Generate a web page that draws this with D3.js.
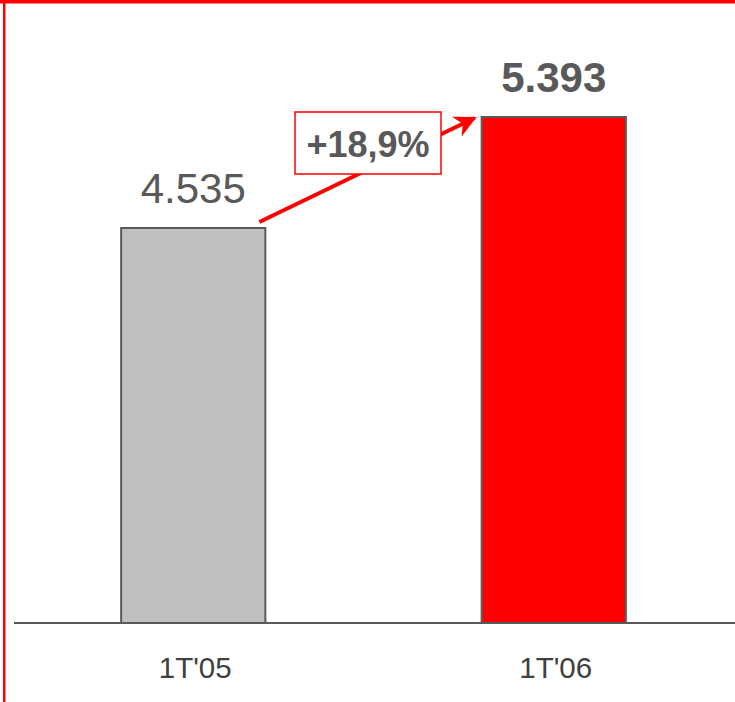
<!DOCTYPE html>
<html><head><meta charset="utf-8">
<script src="https://cdn.jsdelivr.net/npm/d3@7"></script>
<style>body{margin:0;background:#fff}svg{display:block}</style>
</head><body>
<svg id="c" width="735" height="702"></svg>
<script>
const categories = ["1T'05", "1T'06"];
const values = [4535, 5393];
const valueLabels = ["4.535", "5.393"];
const changeLabel = "+18,9%";

const W = 735, H = 702;
const svg = d3.select("#c");
const baseY = 623;
const x = d3.scaleBand().domain(categories).range([13, 734]).paddingInner(0.6).paddingOuter(0.3);
const y = d3.scaleLinear().domain([1482, 5393]).range([baseY, 117]);

// frame lines
svg.append("rect").attr("x", 0).attr("y", 0).attr("width", W).attr("height", 3.5).attr("fill", "#ff0000");
svg.append("rect").attr("x", 3).attr("y", 0).attr("width", 2.5).attr("height", H).attr("fill", "#ff0000");

// bars
const fills = ["#c0c0c0", "#ff0000"];
svg.selectAll("rect.bar").data(values).join("rect").attr("class", "bar")
  .attr("x", (d, i) => x(categories[i]))
  .attr("y", d => y(d))
  .attr("width", x.bandwidth())
  .attr("height", d => baseY - y(d))
  .attr("fill", (d, i) => fills[i])
  .attr("stroke", "#595959").attr("stroke-width", 2);

// baseline axis
svg.append("line").attr("x1", 14).attr("x2", 735).attr("y1", baseY).attr("y2", baseY)
  .attr("stroke", "#595959").attr("stroke-width", 2);

// category labels
svg.selectAll("text.cat").data(categories).join("text").attr("class", "cat")
  .attr("x", d => x(d) + x.bandwidth() / 2 + 2)
  .attr("y", 678)
  .attr("text-anchor", "middle")
  .attr("font-family", "Liberation Sans, Arial, sans-serif")
  .attr("font-size", 29.5)
  .attr("fill", "#404040")
  .text(d => d);

// value labels
svg.selectAll("text.val").data(values).join("text").attr("class", "val")
  .attr("x", (d, i) => x(categories[i]) + x.bandwidth() / 2)
  .attr("y", (d, i) => y(d) - (i === 0 ? 25 : 25.5))
  .attr("text-anchor", "middle")
  .attr("font-family", "Liberation Sans, Arial, sans-serif")
  .attr("font-size", 42)
  .attr("font-weight", (d, i) => i === 0 ? "normal" : "bold")
  .attr("fill", "#595959")
  .text((d, i) => valueLabels[i]);

// arrow
const defs = svg.append("defs");
defs.append("marker").attr("id", "ah").attr("viewBox", "0 0 10 10")
  .attr("refX", 9).attr("refY", 5).attr("markerWidth", 5.5).attr("markerHeight", 5.5)
  .attr("markerUnits", "strokeWidth").attr("orient", "auto")
  .append("path").attr("d", "M0,0 L10,5 L0,10 L3,5 Z").attr("fill", "#ff0000");

const x0 = x(categories[0]) + x.bandwidth() - 6, y0 = y(values[0]) - 6;
const x1 = x(categories[1]) - 7, y1 = y(values[1]) + 1;
svg.append("line").attr("x1", x0).attr("y1", y0).attr("x2", x1).attr("y2", y1)
  .attr("stroke", "#ff0000").attr("stroke-width", 4).attr("marker-end", "url(#ah)");

// change box
svg.append("rect").attr("x", 295).attr("y", 112).attr("width", 146).attr("height", 62)
  .attr("fill", "#fff").attr("stroke", "#ff0000").attr("stroke-width", 1.5);
svg.append("text").attr("x", 368).attr("y", 157).attr("text-anchor", "middle")
  .attr("font-family", "Liberation Sans, Arial, sans-serif")
  .attr("font-size", 36).attr("font-weight", "bold").attr("fill", "#595959")
  .text(changeLabel);
</script>
</body></html>
